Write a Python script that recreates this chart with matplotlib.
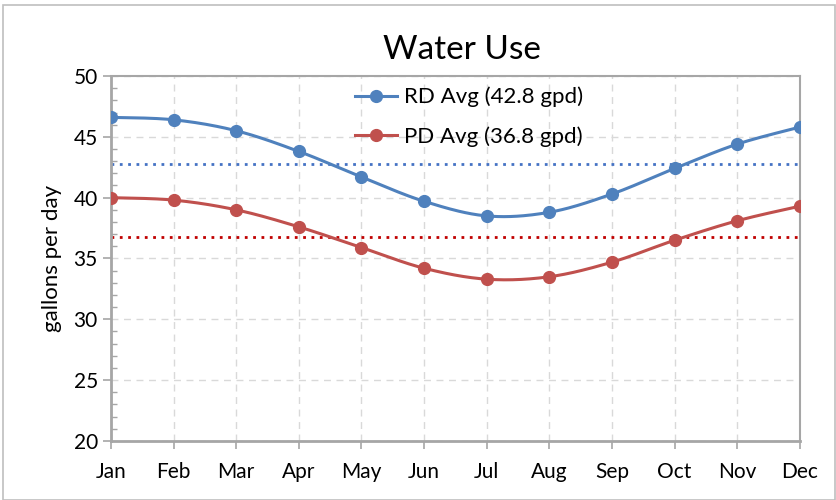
import matplotlib.pyplot as plt
import numpy as np
from matplotlib.patches import Rectangle
from matplotlib.ticker import MultipleLocator

plt.rcParams['font.family'] = ['Lato', 'DejaVu Sans']

months = ['Jan', 'Feb', 'Mar', 'Apr', 'May', 'Jun', 'Jul', 'Aug', 'Sep', 'Oct', 'Nov', 'Dec']
rd = [46.6, 46.4, 45.5, 43.8, 41.7, 39.7, 38.5, 38.8, 40.3, 42.4, 44.4, 45.8]
pd_ = [40.0, 39.8, 39.0, 37.6, 35.9, 34.2, 33.3, 33.5, 34.7, 36.5, 38.1, 39.3]
rd_avg = 42.8
pd_avg = 36.8


def smooth(y, n=30):
    # catmull-rom style smoothing like Excel's smoothed line
    y = np.asarray(y, float)
    x = np.arange(len(y), dtype=float)
    p = np.concatenate([[y[0]], y, [y[-1]]])
    px = np.concatenate([[x[0]], x, [x[-1]]])
    xs, ys = [], []
    for i in range(1, len(p) - 2):
        t = np.linspace(0, 1, n)
        for arr, out in ((px, xs), (p, ys)):
            p0, p1, p2, p3 = arr[i - 1], arr[i], arr[i + 1], arr[i + 2]
            m1 = (p2 - p0) / 2
            m2 = (p3 - p1) / 2
            h00 = 2 * t**3 - 3 * t**2 + 1
            h10 = t**3 - 2 * t**2 + t
            h01 = -2 * t**3 + 3 * t**2
            h11 = t**3 - t**2
            out.extend(h00 * p1 + h10 * m1 + h01 * p2 + h11 * m2)
    return np.array(xs), np.array(ys)


fig = plt.figure(figsize=(8.37, 5), dpi=100)
ax = fig.add_axes([0.1326, 0.118, 0.823, 0.730])
fig.patches.append(Rectangle((0.004, 0.0), 0.994, 0.99, transform=fig.transFigure,
                             fill=False, edgecolor='#BFBFBF', lw=1.2))

x = np.arange(len(months))
blue = '#4F81BD'
red = '#C0504D'

for v, c in ((rd, blue), (pd_, red)):
    sx, sy = smooth(v)
    ax.plot(sx, sy, color=c, lw=2.2, zorder=3)
ax.plot(x, rd, 'o', color=blue, ms=8.5, zorder=4)
ax.plot(x, pd_, 'o', color=red, ms=8.5, zorder=4)
ax.plot([0, 11], [rd_avg, rd_avg], color='#4472C4', ls=(0, (1, 2)), lw=2)
ax.plot([0, 11], [pd_avg, pd_avg], color='#C00000', ls=(0, (1, 2)), lw=2)

ax.plot([], [], '-o', color=blue, lw=2.2, ms=8.5, label='RD Avg (42.8 gpd)')
ax.plot([], [], '-o', color=red, lw=2.2, ms=8.5, label='PD Avg (36.8 gpd)')
ax.legend(loc='upper center', bbox_to_anchor=(0.52, 1.025), frameon=False, fontsize=16,
          handlelength=1.9, handletextpad=0.3, labelspacing=0.85)

ax.set_xlim(0, 11)
ax.set_ylim(20, 50)
ax.set_xticks(x)
ax.set_xticklabels(months, fontsize=15)
ax.yaxis.set_major_locator(MultipleLocator(5))
ax.yaxis.set_minor_locator(MultipleLocator(1))
ax.tick_params(axis='y', labelsize=15, colors='#A6A6A6', labelcolor='black', length=6, width=1.2)
ax.tick_params(axis='y', which='minor', direction='in', length=4, width=1, colors='#A6A6A6')
ax.tick_params(axis='x', colors='#A6A6A6', labelcolor='black', length=6, width=1.2, pad=9)
ax.grid(True, color='#D9D9D9', ls=(0, (5, 4)), lw=1)
ax.set_axisbelow(True)
for s in ax.spines.values():
    s.set_color('#A6A6A6')
    s.set_linewidth(1.5)
ax.spines['left'].set_linewidth(2)
ax.spines['bottom'].set_linewidth(2)
ax.set_ylabel('gallons per day', fontsize=16, labelpad=8)
fig.text(0.552, 0.9, 'Water Use', ha='center', va='center', fontsize=24)

fig.savefig('out.png', dpi=100)
